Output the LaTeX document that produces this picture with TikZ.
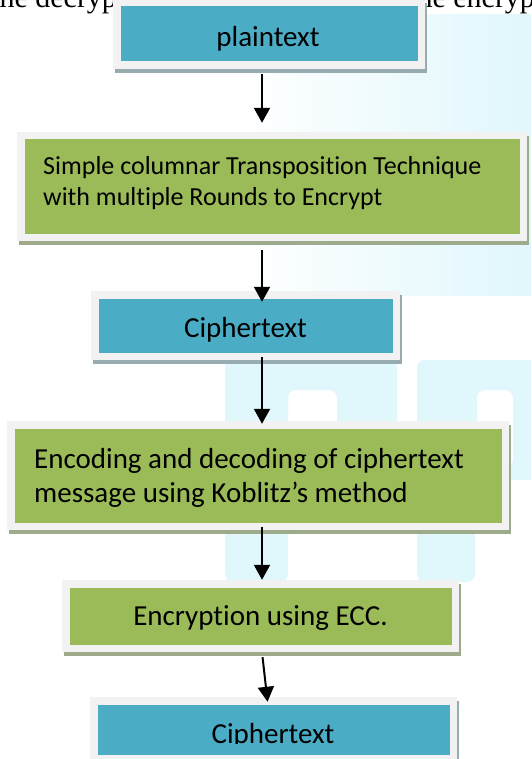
\documentclass[tikz,border=0pt]{standalone}
\usepackage{fontspec}
\newfontfamily\calib[Ligatures={NoCommon,NoContextual}]{Carlito}
\newfontfamily\pageserif{Liberation Serif}
\usetikzlibrary{arrows.meta,shadows}
\definecolor{boxblue}{HTML}{4BACC6}
\definecolor{boxgreen}{HTML}{9BBB59}
\definecolor{framegray}{HTML}{F2F2F2}
\definecolor{hatchblue}{RGB}{150,172,176}
\definecolor{hatchgreen}{RGB}{158,170,140}
\definecolor{wmark}{RGB}{224,247,252}
\tikzstyle{stage}=[rectangle,inner sep=0pt,fill=framegray]
\tikzstyle{bluebox}=[stage,
  drop shadow={shadow xshift=2pt,shadow yshift=-4pt,fill=hatchblue,opacity=1},
  path picture={\fill[boxblue] ([shift={(7.5pt,-7.5pt)}]path picture bounding box.north west)
    rectangle ([shift={(-7.5pt,7.5pt)}]path picture bounding box.south east);}]
\tikzstyle{greenbox}=[stage,
  drop shadow={shadow xshift=2pt,shadow yshift=-4pt,fill=hatchgreen,opacity=1},
  path picture={\fill[boxgreen] ([shift={(7.5pt,-7.5pt)}]path picture bounding box.north west)
    rectangle ([shift={(-7.5pt,7.5pt)}]path picture bounding box.south east);}]
\tikzstyle{txt}=[inner sep=0pt,font=\calib\fontsize{29}{34}\selectfont]
\tikzstyle{smalltxt}=[inner sep=0pt,font=\calib\fontsize{26}{30}\selectfont]
\tikzstyle{flow}=[line width=2pt,-{Triangle[width=16pt,length=15pt]}]

\begin{document}
\begin{tikzpicture}[x=1pt,y=-1pt]
  \useasboundingbox (0,0) rectangle (531,759);
  \clip (0,0) rectangle (531,759);
  % faint watermark behind the chart
  \shade[left color=white,right color=wmark] (240,15) rectangle (531,295);
  \fill[wmark,even odd rule,rounded corners=8pt] (225,360) rectangle (397,480) (288,390) rectangle (337,455);
  \fill[wmark,rounded corners=8pt] (225,360) rectangle (288,582);
  \fill[wmark,even odd rule,rounded corners=8pt] (417,360) rectangle (540,480) (477,390) rectangle (513,467);
  \fill[wmark,rounded corners=8pt] (417,360) rectangle (475,582);
  % running text of the page, cut at the top
  \node[anchor=base west,inner sep=0pt,font=\pageserif\fontsize{30}{34}\selectfont] (pageleft) at (-9,8) {the decryption};
  \node[anchor=base west,inner sep=0pt,font=\pageserif\fontsize{30}{34}\selectfont] (pageright) at (409,8) {the encryption};

  \node[bluebox,minimum width=312pt,minimum height=70pt] (plain) at (269,34) {};
  \node[txt,anchor=base] (plaintxt) at (268,47) {plaintext};

  \node[greenbox,minimum width=510pt,minimum height=109pt] (columnar) at (272,186.5) {};
  \node[smalltxt,anchor=base west] (columnarA) at (43,175) {Simple columnar Transposition Technique};
  \node[smalltxt,anchor=base west] (columnarB) at (43,205) {with multiple Rounds to Encrypt};

  \node[bluebox,minimum width=309pt,minimum height=69pt] (cipherA) at (245.5,325.5) {};
  \node[txt,anchor=base] (cipherAtxt) at (245.5,337) {Ciphertext};

  \node[greenbox,minimum width=502pt,minimum height=109pt] (encode) at (258,475.5) {};
  \node[txt,anchor=base west] (encodeA) at (34,468) {Encoding and decoding of ciphertext};
  \node[txt,anchor=base west] (encodeB) at (34,502) {message using Koblitz’s method};

  \node[greenbox,minimum width=397pt,minimum height=72pt] (encrypt) at (260.5,616) {};
  \node[txt,anchor=base] (encrypttxt) at (260.5,625) {Encryption using ECC.};

  \node[bluebox,minimum width=367pt,minimum height=65pt] (cipherB) at (273.5,729.5) {};
  \begin{scope}
    \clip (0,0) rectangle (531,743);
    \node[txt,anchor=base] (cipherBtxt) at (273,743) {Ciphertext};
  \end{scope}

  % arrows between the stages
  \coordinate (axis) at (262,0);
  \coordinate (axisB) at (267,0);
  \draw[flow,shorten <=5pt,shorten >=9pt] (plain.south -| axis) -- (columnar.north -| axis);
  \draw[flow,shorten <=9pt,shorten >=-11pt] (columnar.south -| axis) -- (cipherA.north -| axis);
  \draw[flow,shorten <=-3pt,shorten >=-3pt] (cipherA.south -| axis) -- (encode.north -| axis);
  \draw[flow,shorten <=-3pt] (encode.south -| axis) -- (encrypt.north -| axis);
  \draw[flow,shorten <=5pt,shorten >=-5pt] (encrypt.south -| axis) -- (cipherB.north -| axisB);
\end{tikzpicture}
\end{document}
